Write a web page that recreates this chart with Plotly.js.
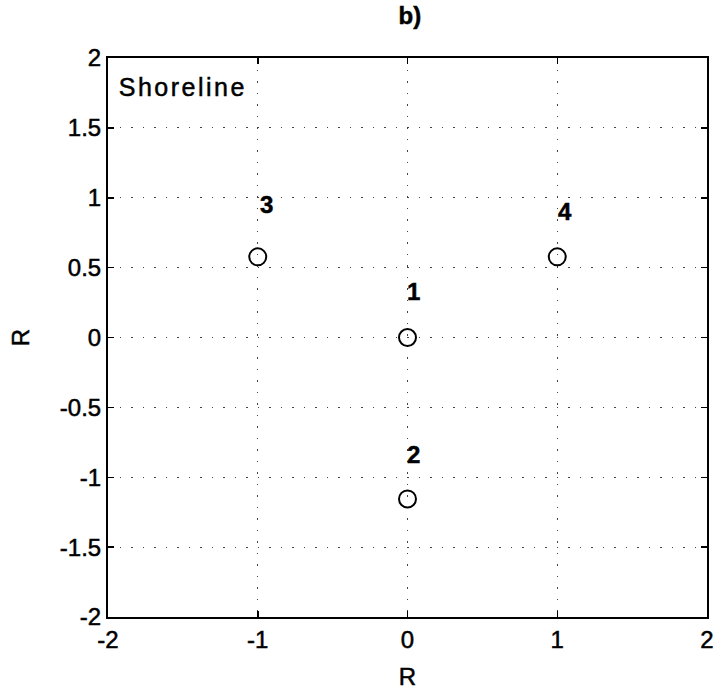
<!DOCTYPE html>
<html>
<head>
<meta charset="utf-8">
<script src="https://cdn.plot.ly/plotly-3.0.1.min.js"></script>
<style>
  html, body { margin: 0; padding: 0; background: #fff; }
  #chart { width: 716px; height: 695px; }
  /* slightly heavier strokes for all lettering */
  #chart svg text { stroke: #000; stroke-width: 0.5px; }
</style>
</head>
<body>
<div id="chart"></div>
<script>
// Station positions (units of R)
const stationIds = ['1', '2', '3', '4'];
const stationX = [0, 0, -1, 1];
const stationY = [0, -1.155, 0.577, 0.577];

// Where each station number is written
const labelX = [0.04, 0.04, -0.94, 1.05];
const labelY = [0.33, -0.84, 0.95, 0.9];

const xTicks = [-2, -1, 0, 1, 2];
const yTicks = [-2, -1.5, -1, -0.5, 0, 0.5, 1, 1.5, 2];

const family = 'Liberation Sans, Arial, sans-serif';
const font = { family: family, size: 24, color: '#000' };

const trace = {
  x: stationX,
  y: stationY,
  mode: 'markers',
  type: 'scatter',
  marker: { symbol: 'circle-open', size: 17, color: '#000', line: { width: 2, color: '#000' } },
  hoverinfo: 'skip',
  cliponaxis: false
};

const annotations = stationIds.map((id, i) => ({
  x: labelX[i], y: labelY[i], xref: 'x', yref: 'y',
  text: '<b>' + id + '</b>', showarrow: false,
  font: font, xanchor: 'center', yanchor: 'middle'
}));
annotations.push({
  x: 0.033, y: 0.976, xref: 'paper', yref: 'paper',
  text: 'Shoreline', showarrow: false,
  font: { family: family, size: 25, color: '#000' },
  xanchor: 'left', yanchor: 'top'
});

const axisCommon = {
  showline: true, linecolor: '#000', linewidth: 2, mirror: 'ticks',
  ticks: 'inside', ticklen: 6, tickwidth: 1.5, tickcolor: '#000',
  showgrid: true, gridcolor: '#444', gridwidth: 1, griddash: '1.5px,10px',
  zeroline: false, tickfont: font, fixedrange: true
};

const layout = {
  width: 716, height: 695,
  margin: { l: 108, r: 9, t: 58, b: 78 },
  paper_bgcolor: '#fff', plot_bgcolor: '#fff',
  showlegend: false,
  title: { text: '<b>b)</b>', font: font, x: 0.504, xref: 'paper', xanchor: 'center', y: 0.977, yanchor: 'middle' },
  xaxis: Object.assign({}, axisCommon, {
    range: [-2, 2], tickvals: xTicks, ticktext: xTicks.map(String),
    title: { text: 'R', font: font, standoff: 16 }
  }),
  yaxis: Object.assign({}, axisCommon, {
    range: [-2, 2], tickvals: yTicks, ticktext: yTicks.map(String),
    title: { text: 'R', font: font, standoff: 23 }
  }),
  annotations: annotations
};

Plotly.newPlot('chart', [trace], layout, { displayModeBar: false, staticPlot: true }).then(() => {
  // widen the tracking of the corner caption
  document.querySelectorAll('.annotation-text').forEach(t => {
    if (t.textContent === 'Shoreline') t.style.letterSpacing = '2.5px';
  });
});
</script>
</body>
</html>
